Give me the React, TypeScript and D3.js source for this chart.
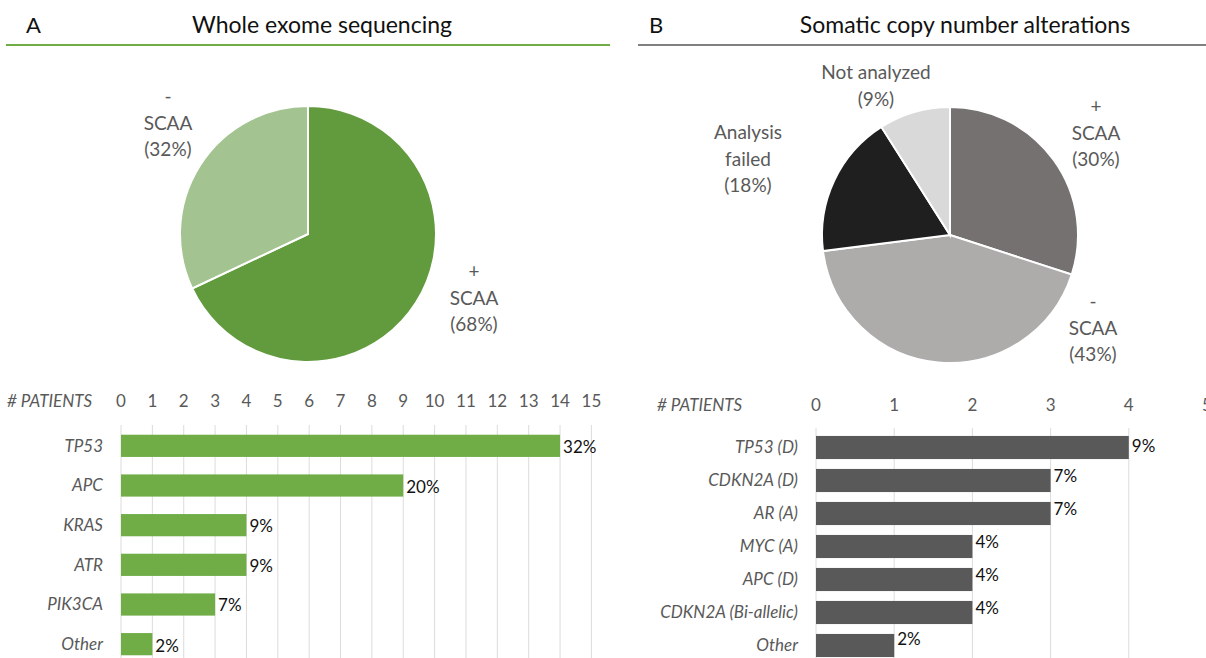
import React, { useEffect, useRef } from 'react';
import * as d3 from 'd3';

// Pie A: whole exome sequencing
const wesLabels = [['+', 'SCAA', '(68%)'], ['-', 'SCAA', '(32%)']];
const wesValues = [68, 32];
const wesColors = ['#629b3d', '#a3c490'];

// Pie B: somatic copy number alterations
const scnaLabels = [['+', 'SCAA', '(30%)'], ['-', 'SCAA', '(43%)'], ['Analysis', 'failed', '(18%)'], ['Not analyzed', '(9%)']];
const scnaValues = [30, 43, 18, 9];
const scnaColors = ['#767171', '#aeabab', '#1f1f1f', '#d9d9d9'];

// Bars A
const wesGenes = ['TP53', 'APC', 'KRAS', 'ATR', 'PIK3CA', 'Other'];
const wesCounts = [14, 9, 4, 4, 3, 1];
const wesPct = ['32%', '20%', '9%', '9%', '7%', '2%'];
const wesTicks = d3.range(0, 16);

// Bars B
const scnaGenes = ['TP53 (D)', 'CDKN2A (D)', 'AR (A)', 'MYC (A)', 'APC (D)', 'CDKN2A (Bi-allelic)', 'Other'];
const scnaCounts = [4, 3, 3, 2, 2, 2, 1];
const scnaPct = ['9%', '7%', '7%', '4%', '4%', '4%', '2%'];
const scnaTicks = [0, 1, 2, 3, 4, 5];

const FONT = 'Lato, "Open Sans", sans-serif';
const GREY = '#595959';

const App = () => {
  const ref = useRef<SVGSVGElement>(null);

  useEffect(() => {
    const svg = d3.select(ref.current);
    svg.selectAll('*').remove();

    // headers
    const header = (x0: number, x1: number, letterX: number, titleX: number, letter: string, title: string, color: string) => {
      svg.append('text').attr('x', letterX).attr('y', 33).attr('font-size', 22).attr('font-family', FONT).attr('fill', '#111').text(letter);
      svg.append('text').attr('x', titleX).attr('y', 33).attr('font-size', 23).attr('font-family', FONT).attr('fill', '#111')
        .attr('text-anchor', 'middle').text(title);
      svg.append('line').attr('x1', x0).attr('x2', x1).attr('y1', 45).attr('y2', 45).attr('stroke', color).attr('stroke-width', 2);
    };
    header(6, 610, 26, 322, 'A', 'Whole exome sequencing', '#70ad47');
    header(638, 1206, 649, 965, 'B', 'Somatic copy number alterations', '#808080');

    // pies
    const drawPie = (cx: number, cy: number, r: number, values: number[], colors: string[], labels: string[][], pos: [number, number][]) => {
      const pie = d3.pie<number>().sort(null).value(d => d);
      const arc = d3.arc<d3.PieArcDatum<number>>().innerRadius(0).outerRadius(r);
      const g = svg.append('g').attr('transform', `translate(${cx},${cy})`);
      g.selectAll('path').data(pie(values)).enter().append('path')
        .attr('d', arc).attr('fill', (_, i) => colors[i]).attr('stroke', '#fff').attr('stroke-width', 2);
      labels.forEach((lines, i) => {
        const t = svg.append('text').attr('font-family', FONT).attr('font-size', 19).attr('fill', GREY).attr('text-anchor', 'middle');
        lines.forEach((l, j) => {
          t.append('tspan').attr('x', pos[i][0]).attr('y', pos[i][1] + j * 26.5).text(l);
        });
      });
    };
    drawPie(308, 234, 128, wesValues, wesColors, wesLabels, [[474, 278], [168, 103]]);
    drawPie(950, 235, 128, scnaValues, scnaColors, scnaLabels, [[1096, 113], [1093, 308], [748, 139], [876, 79]]);

    // bar charts
    const drawBars = (opts: {
      x0: number; x1: number; max: number; ticks: number[]; tickY: number; gridTop: number;
      top: number; bottom: number; names: string[]; counts: number[]; pct: string[];
      color: string; labelX: number; headX: number; pad: number; pctDy: number[];
    }) => {
      const x = d3.scaleLinear().domain([0, opts.max]).range([opts.x0, opts.x1]);
      const y = d3.scaleBand<string>().domain(opts.names).range([opts.top, opts.bottom]).paddingInner(opts.pad).paddingOuter(opts.pad / 2);
      const g = svg.append('g');
      g.selectAll('line.grid').data(opts.ticks).enter().append('line')
        .attr('x1', d => x(d)).attr('x2', d => x(d)).attr('y1', opts.gridTop).attr('y2', 658)
        .attr('stroke', '#dcdcdc').attr('stroke-width', 1);
      g.selectAll('text.tick').data(opts.ticks).enter().append('text')
        .attr('x', d => x(d)).attr('y', opts.tickY).attr('text-anchor', 'middle')
        .attr('font-family', FONT).attr('font-size', 17).attr('fill', GREY).text(d => d);
      g.append('text').attr('x', opts.headX).attr('y', opts.tickY).attr('font-family', FONT).attr('font-size', 17)
        .attr('font-style', 'italic').attr('fill', GREY).text('# PATIENTS');
      g.selectAll('rect').data(opts.counts).enter().append('rect')
        .attr('x', x(0)).attr('y', (_, i) => y(opts.names[i])!).attr('width', d => x(d) - x(0))
        .attr('height', y.bandwidth()).attr('fill', opts.color);
      g.selectAll('text.name').data(opts.names).enter().append('text')
        .attr('x', opts.labelX).attr('y', d => y(d)! + y.bandwidth() / 2).attr('dy', '0.35em')
        .attr('text-anchor', 'end').attr('font-family', FONT).attr('font-size', 17).attr('font-style', 'italic')
        .attr('fill', GREY).text(d => d);
      g.selectAll('text.pct').data(opts.counts).enter().append('text')
        .attr('x', d => x(d) + 3).attr('y', (_, i) => y(opts.names[i])! + y.bandwidth() / 2 + opts.pctDy[i]).attr('dy', '0.35em')
        .attr('font-family', FONT).attr('font-size', 17).attr('fill', '#111').text((_, i) => opts.pct[i]);
    };

    drawBars({
      x0: 121, x1: 591.4, max: 15, ticks: wesTicks, tickY: 407, gridTop: 425,
      top: 426, bottom: 664, names: wesGenes, counts: wesCounts, pct: wesPct,
      color: '#70ad47', labelX: 103, headX: 7, pad: 0.44, pctDy: [1, 2, 1, 1, 1, 2],
    });
    drawBars({
      x0: 816, x1: 1207, max: 5, ticks: scnaTicks, tickY: 411, gridTop: 428,
      top: 431, bottom: 662, names: scnaGenes, counts: scnaCounts, pct: scnaPct,
      color: '#595959', labelX: 798, headX: 657, pad: 0.3, pctDy: [-1, -4, -4, -4, -4, -4, -6],
    });
  }, []);

  return (
    <svg ref={ref} width={1206} height={658} style={{ position: 'absolute', left: 0, top: 0, background: '#fff' }} />
  );
};

export default App;
